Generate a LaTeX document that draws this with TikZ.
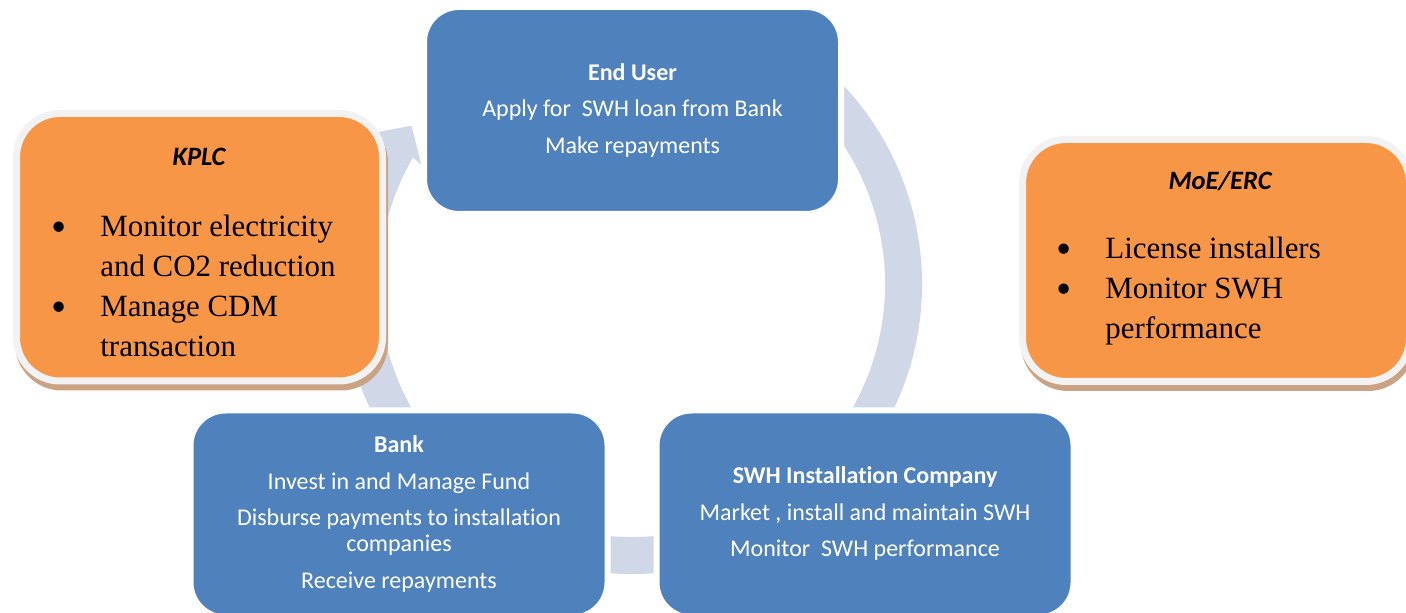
\documentclass[tikz,border=0pt]{standalone}
\usepackage{fontspec}
\setmainfont{Carlito}[Ligatures=NoCommon]
\newfontfamily\listfont{Liberation Serif}
\usetikzlibrary{shadows}

\definecolor{stageblue}{HTML}{4F81BD}
\definecolor{actororange}{HTML}{F79646}
\definecolor{ringblue}{HTML}{D0D8E8}
\definecolor{framegray}{HTML}{F2F2F2}
\definecolor{shadowtan}{HTML}{C9A383}

% bullet and hanging indent for the duty lists
\newcommand{\dutybullet}{\makebox[25pt][l]{\hspace{0.5pt}\raisebox{-2.2pt}[0pt][0pt]{\scalebox{1.4}{\textbullet}}}}
\newcommand{\dutyindent}{\hspace*{25pt}}

\begin{document}
\begin{tikzpicture}[
  x=0.5pt, y=0.5pt,
  stage/.style={draw=white, line width=3pt, fill=stageblue, rounded corners=17.5pt,
    minimum width=208.5pt, minimum height=103.5pt, inner sep=0pt, text=white,
    align=center, font=\fontsize{12}{13}\selectfont},
  actor/.style={draw=framegray, line width=3.5pt, fill=actororange, rounded corners=21.75pt,
    general shadow={fill=shadowtan, draw=shadowtan, line width=3.5pt,
      shadow xshift=1pt, shadow yshift=-3pt}},
  actortitle/.style={inner sep=0pt, font=\fontsize{13.25}{15}\selectfont\bfseries\itshape},
  duties/.style={align=left, inner sep=0pt, font=\listfont\fontsize{15.45}{20}\selectfont}
]
\clip (0,0) rectangle (1406,613);

% circular arrow behind the three stages
\begin{scope}[shift={(632,329)}]
  \fill[ringblue] (60:253) -- (60:290) arc[start angle=60, end angle=-210, radius=290]
    -- (150:301) -- (144.3:271.5) -- (150.5:242) -- (150:253)
    arc[start angle=-210, end angle=60, radius=253] -- cycle;
\end{scope}

% the three stages of the cycle
\node[stage] (enduser) at (632.5,502.5) {\textbf{End User}\\[5.25pt]
  Apply for\ \ SWH loan from Bank\\[5.25pt] Make repayments};
\node[stage] (bank) at (399,99) {\textbf{Bank}\\[5.25pt]
  Invest in and Manage Fund\\[5.25pt] Disburse payments to installation\\
  companies\\[5.25pt] Receive repayments};
\node[stage] (installer) at (865,99) {\textbf{SWH Installation Company}\\[5.25pt]
  Market , install and maintain SWH\\[5.25pt] Monitor\ \ SWH performance};

% KPLC
\node[actor, minimum width=183pt, minimum height=133.75pt] (kplc) at (199.5,365.75) {};
\node[actortitle, anchor=base] (kplctitle) at (199,447) {KPLC};
\node[duties, anchor=north west] (kplcduties) at (50,398) {%
  \dutybullet Monitor electricity\\ \dutyindent and CO2 reduction\\
  \dutybullet Manage CDM\\ \dutyindent transaction};

% MoE/ERC
\node[actor, minimum width=193.5pt, minimum height=121pt] (moe) at (1216,352.5) {};
\node[actortitle, anchor=base] (moetitle) at (1220,423) {MoE/ERC};
\node[duties, anchor=north west] (moeduties) at (1055,376) {%
  \dutybullet License installers\\ \dutybullet Monitor SWH\\
  \dutyindent performance};
\end{tikzpicture}
\end{document}
